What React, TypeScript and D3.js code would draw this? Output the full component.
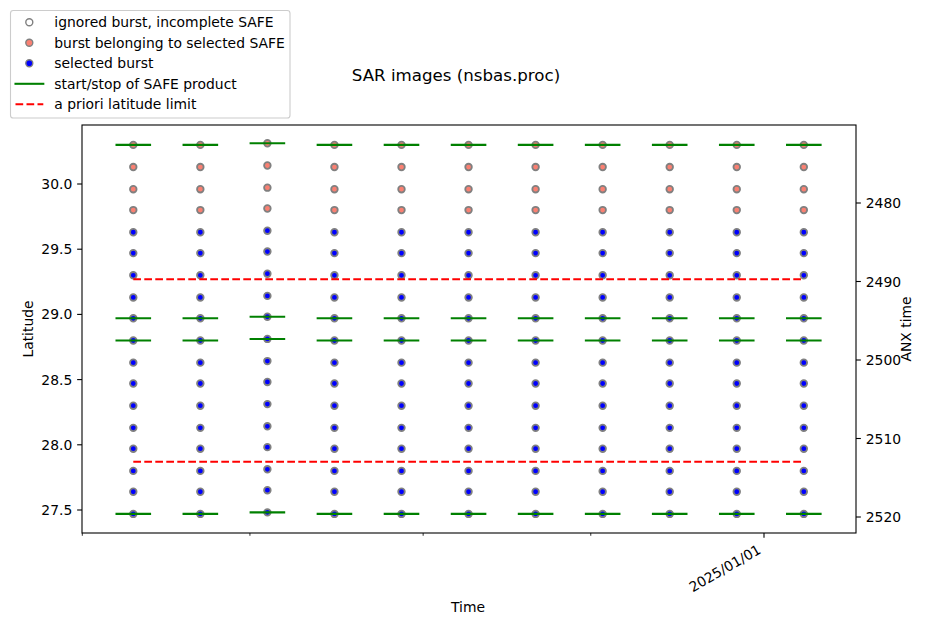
import React from 'react';
import * as d3 from 'd3';

// ---- data ----
const acqDates = ['2024-09-10', '2024-09-22', '2024-10-04', '2024-10-16', '2024-10-28', '2024-11-09', '2024-11-21', '2024-12-03', '2024-12-15', '2024-12-27', '2025-01-08'];
const dateLatShift = [0, 0, 0.012, 0, 0, 0, 0, 0, 0, 0, 0];
const burstLat = [30.30, 30.13, 29.96, 29.80, 29.63, 29.47, 29.30, 29.13, 28.97, 28.80, 28.63, 28.47, 28.30, 28.13, 27.97, 27.80, 27.64, 27.47];
const burstSelected = [false, false, false, false, true, true, true, true, true, true, true, true, true, true, true, true, true, true];
const safeStartStop = [30.30, 28.97, 28.80, 27.47];
const latLimits = [29.27, 27.87];
const latTicks = [27.5, 28.0, 28.5, 29.0, 29.5, 30.0];
const anxTicks = [2480, 2490, 2500, 2510, 2520];
const minorTickDates = ['2024-09-01', '2024-10-01', '2024-11-01', '2024-12-01'];
const majorTickDates = ['2025-01-01'];
const majorTickLabels = ['2025/01/01'];

const legendItems = [
  { kind: 'marker', fill: 'white', label: 'ignored burst, incomplete SAFE' },
  { kind: 'marker', fill: '#FA8072', label: 'burst belonging to selected SAFE' },
  { kind: 'marker', fill: '#0000FF', label: 'selected burst' },
  { kind: 'line', color: '#008000', dash: '', label: 'start/stop of SAFE product' },
  { kind: 'line', color: '#FF0000', dash: '7.7,3.3', label: 'a priori latitude limit' },
];

// ---- layout ----
const W = 929, H = 624;
const L = 82, R = 856, T = 125, B = 533;
const FONT = 'DejaVu Sans, sans-serif';
const DAY = 86400000;

const acqTime = (d: string) => new Date(`${d}T03:00:00Z`);
const dayStart = (d: string) => new Date(`${d}T00:00:00Z`);

const base = d3.scaleUtc().domain([dayStart('2024-09-01'), dayStart('2025-01-01')]).range([82.3, 764]);
const x = d3.scaleUtc().domain([base.invert(L), base.invert(R)]).range([L, R]);
const y = d3.scaleLinear().domain([27.3236, 30.4525]).range([B, T]);
const yAnx = d3.scaleLinear().domain([2470.064, 2522.038]).range([T, B]);

export default function App() {
  const tickLen = 4.86, minorLen = 2.78, pad = 4.86;
  return (
    <svg width={W} height={H} style={{ position: 'absolute', left: 0, top: 0, background: 'white' }} fontFamily={FONT}>
      <rect x={0} y={0} width={W} height={H} fill="white" />
      {/* points */}
      {acqDates.map((d, j) => (
        <g key={d}>
          {burstLat.map((lat, i) => (
            <circle key={i} cx={x(acqTime(d))} cy={y(lat + dateLatShift[j])} r={3.3}
              fill={burstSelected[i] ? '#0000FF' : '#FA8072'} stroke="#808080" strokeWidth={1.8} />
          ))}
        </g>
      ))}
      {/* SAFE start/stop */}
      {acqDates.map((d, j) => (
        <g key={'s' + d}>
          {safeStartStop.map((lat, i) => {
            const t = acqTime(d).getTime();
            return (
              <line key={i} x1={x(new Date(t - 3 * DAY))} x2={x(new Date(t + 3 * DAY))}
                y1={y(lat + dateLatShift[j])} y2={y(lat + dateLatShift[j])}
                stroke="#008000" strokeWidth={2.08} strokeLinecap="square" />
            );
          })}
        </g>
      ))}
      {/* latitude limits */}
      {latLimits.map((lat, i) => (
        <line key={i} x1={x(acqTime(acqDates[0]))} x2={x(acqTime(acqDates[acqDates.length - 1]))}
          y1={y(lat)} y2={y(lat)} stroke="#FF0000" strokeWidth={2.08} strokeDasharray="7.7,3.3" />
      ))}
      {/* spines */}
      <rect x={L} y={T} width={R - L} height={B - T} fill="none" stroke="black" strokeWidth={1.1} />
      {/* left ticks */}
      {latTicks.map(v => (
        <g key={v}>
          <line x1={L - tickLen} x2={L} y1={y(v)} y2={y(v)} stroke="black" strokeWidth={1.1} />
          <text x={L - tickLen - pad} y={y(v)} dy="0.36em" textAnchor="end" fontSize={13.9}>{v.toFixed(1)}</text>
        </g>
      ))}
      {/* right ticks */}
      {anxTicks.map(v => (
        <g key={v}>
          <line x1={R} x2={R + tickLen} y1={yAnx(v)} y2={yAnx(v)} stroke="black" strokeWidth={1.1} />
          <text x={R + tickLen + pad} y={yAnx(v)} dy="0.36em" textAnchor="start" fontSize={13.9}>{v}</text>
        </g>
      ))}
      {/* x ticks */}
      {minorTickDates.map(d => (
        <line key={d} x1={x(dayStart(d))} x2={x(dayStart(d))} y1={B} y2={B + minorLen} stroke="black" strokeWidth={0.83} />
      ))}
      {majorTickDates.map((d, i) => (
        <g key={d}>
          <line x1={x(dayStart(d))} x2={x(dayStart(d))} y1={B} y2={B + tickLen} stroke="black" strokeWidth={1.1} />
          <text transform={`translate(${x(dayStart(d)) - 2},${552.5}) rotate(-30)`} textAnchor="end" fontSize={13.9}>{majorTickLabels[i]}</text>
        </g>
      ))}
      {/* axis labels */}
      <text x={468} y={612} textAnchor="middle" fontSize={13.9}>Time</text>
      <text transform={`translate(32.7,${(T + B) / 2}) rotate(-90)`} textAnchor="middle" fontSize={13.9}>Latitude</text>
      <text transform={`translate(910.5,${(T + B) / 2}) rotate(-90)`} textAnchor="middle" fontSize={13.9}>ANX time</text>
      {/* title */}
      <text x={456} y={80.5} textAnchor="middle" fontSize={16.67}>SAR images (nsbas.proc)</text>
      {/* legend */}
      <rect x={10.5} y={10.5} width={279.5} height={107.5} rx={2.8} fill="white" fillOpacity={0.8} stroke="#cccccc" strokeWidth={1.1} />
      {legendItems.map((it, i) => {
        const cy = 22.3 + i * 20.5;
        return (
          <g key={i}>
            {it.kind === 'marker' ? (
              <circle cx={29.3} cy={cy} r={3.5} fill={it.fill} stroke="#808080" strokeWidth={1.4} />
            ) : (
              <line x1={15.5} x2={43.3} y1={cy} y2={cy} stroke={it.color} strokeWidth={2.08}
                strokeDasharray={it.dash || undefined} strokeLinecap={it.dash ? 'butt' : 'square'} />
            )}
            <text x={54.3} y={cy} dy="0.36em" fontSize={13.9}>{it.label}</text>
          </g>
        );
      })}
    </svg>
  );
}
